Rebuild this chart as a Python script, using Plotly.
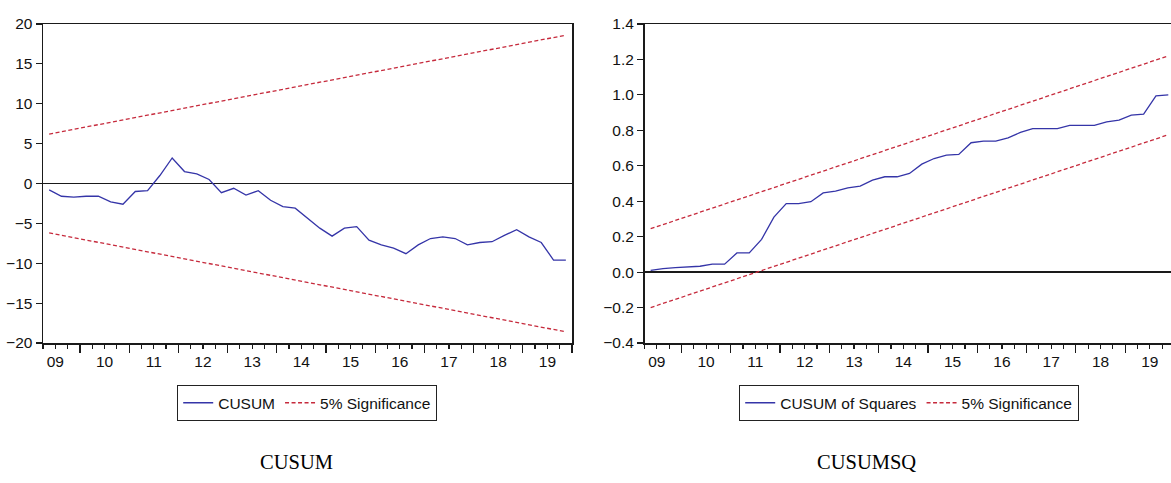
import plotly.graph_objects as go

# ---------------- data ----------------
start_year, start_q = 2009, 2          # first observation 2009Q2
n_obs = 43                              # 2009Q2 .. 2019Q4
quarters = []
y, q = start_year, start_q
for _ in range(n_obs):
    quarters.append((y, q))
    q += 1
    if q > 4:
        q = 1
        y += 1
# plotted at the middle of each quarter (decimal years)
xq = [yy + (qq - 1) * 0.25 + 0.125 for yy, qq in quarters]

cusum = [-0.8, -1.6, -1.7, -1.6, -1.6, -2.3, -2.6, -1.0, -0.9, 1.0,
         3.2, 1.5, 1.2, 0.5, -1.15, -0.6, -1.45, -0.9, -2.1, -2.9,
         -3.1, -4.4, -5.6, -6.6, -5.6, -5.4, -7.1, -7.7, -8.1, -8.8,
         -7.7, -6.9, -6.7, -6.9, -7.7, -7.4, -7.3, -6.5, -5.8, -6.7,
         -7.4, -9.6, -9.6]
cusum_upper = [6.2, 18.6]      # first / last observation
cusum_lower = [-6.2, -18.6]

cusumsq = [0.01, 0.02, 0.025, 0.03, 0.033, 0.045, 0.045, 0.108, 0.108, 0.185,
           0.31, 0.387, 0.387, 0.397, 0.447, 0.457, 0.475, 0.485, 0.519, 0.538,
           0.538, 0.557, 0.609, 0.641, 0.66, 0.664, 0.73, 0.739, 0.739, 0.758,
           0.788, 0.81, 0.81, 0.81, 0.828, 0.828, 0.828, 0.848, 0.858, 0.886,
           0.892, 0.995, 1.0]
sq_upper = [0.245, 1.22]
sq_lower = [-0.2, 0.775]

years = list(range(2009, 2020))
year_labels = ["09", "10", "11", "12", "13", "14", "15", "16", "17", "18", "19"]
captions = ["CUSUM", "CUSUMSQ"]

# ---------------- style ----------------
W, H = 1171, 483
BLUE = "#3535a8"
RED = "#c62a3c"
AX = "#1a1a1a"
TICKFONT = dict(family="Liberation Sans, Arial, sans-serif", size=15.5, color="#111")
LEGFONT = dict(family="Liberation Sans, Arial, sans-serif", size=15.5, color="#111")

x_ends = [xq[0], xq[-1]]

fig = go.Figure()
# Left: CUSUM
fig.add_trace(go.Scatter(x=xq, y=cusum, mode="lines", name="CUSUM",
                         line=dict(color=BLUE, width=1.3), legend="legend",
                         xaxis="x", yaxis="y"))
fig.add_trace(go.Scatter(x=x_ends, y=cusum_upper, mode="lines", name="5% Significance",
                         line=dict(color=RED, width=1.3, dash="4px,2.5px"),
                         legend="legend", xaxis="x", yaxis="y"))
fig.add_trace(go.Scatter(x=x_ends, y=cusum_lower, mode="lines", name="5% Significance",
                         line=dict(color=RED, width=1.3, dash="4px,2.5px"),
                         showlegend=False, xaxis="x", yaxis="y"))
# Right: CUSUMSQ
fig.add_trace(go.Scatter(x=xq, y=cusumsq, mode="lines", name="CUSUM of Squares",
                         line=dict(color=BLUE, width=1.3), legend="legend2",
                         xaxis="x2", yaxis="y2"))
fig.add_trace(go.Scatter(x=x_ends, y=sq_upper, mode="lines", name="5% Significance",
                         line=dict(color=RED, width=1.3, dash="4px,2.5px"),
                         legend="legend2", xaxis="x2", yaxis="y2"))
fig.add_trace(go.Scatter(x=x_ends, y=sq_lower, mode="lines", name="5% Significance",
                         line=dict(color=RED, width=1.3, dash="4px,2.5px"),
                         showlegend=False, xaxis="x2", yaxis="y2"))

# quarter ticks (labels at mid-year), long ticks at year boundaries
q_tickvals, q_ticktext = [], []
for yy, lab in zip(years, year_labels):
    for frac, txt in ((0.25, ""), (0.5, lab), (0.75, "")):
        q_tickvals.append(yy + frac)
        q_ticktext.append(txt)
year_ticks = [yy + 1 for yy in years]

def xaxis_cfg(domain, rng, anchor):
    return dict(domain=domain, range=rng, anchor=anchor,
                tickmode="array", tickvals=q_tickvals, ticktext=q_ticktext,
                ticks="outside", ticklen=4, tickwidth=1.2, tickcolor=AX,
                minor=dict(tickmode="array", tickvals=year_ticks, ticks="outside",
                           ticklen=8, tickwidth=1.2, tickcolor=AX, showgrid=False),
                showline=True, linecolor=AX, linewidth=1.5, mirror=True,
                showgrid=False, zeroline=False, tickfont=TICKFONT,
                automargin=False, fixedrange=True)

def yaxis_cfg(rng, dtick, fmt, anchor, mirror):
    return dict(range=rng, anchor=anchor, tickmode="linear", tick0=rng[0], dtick=dtick,
                tickformat=fmt, ticks="outside", ticklen=6, tickwidth=1.2, tickcolor=AX,
                showline=True, linecolor=AX, linewidth=1.5, mirror=mirror,
                showgrid=False, zeroline=True, zerolinecolor=AX, zerolinewidth=1.5,
                tickfont=TICKFONT, automargin=False, fixedrange=True)

L_dom = [43 / W, 572 / W]
R_dom = [644.5 / W, 1.0]

fig.update_layout(
    width=W, height=H,
    margin=dict(l=0, r=0, t=24, b=140),
    paper_bgcolor="white", plot_bgcolor="white",
    xaxis=xaxis_cfg(L_dom, [2009.25, 2020.0], "y"),
    yaxis=yaxis_cfg([-20, 20], 5, "d", "x", True),
    xaxis2=xaxis_cfg(R_dom, [2009.25, 2019.93], "y2"),
    yaxis2=yaxis_cfg([-0.4, 1.4], 0.2, ".1f", "x2", False),
    legend=dict(orientation="h", x=307 / W, xanchor="center", y=-0.188, yanchor="middle",
                bordercolor="#222", borderwidth=1.2, bgcolor="white", font=LEGFONT,
                itemwidth=30, tracegroupgap=0),
    legend2=dict(orientation="h", x=909 / W, xanchor="center", y=-0.188, yanchor="middle",
                 bordercolor="#222", borderwidth=1.2, bgcolor="white", font=LEGFONT,
                 itemwidth=30, tracegroupgap=0),
    showlegend=True,
)

CAPFONT = dict(family="Liberation Serif, Times New Roman, serif", size=20.5, color="black")
fig.add_annotation(text=captions[0], xref="paper", yref="paper", x=296 / W, y=-0.372,
                   xanchor="center", yanchor="middle", showarrow=False, font=CAPFONT)
fig.add_annotation(text=captions[1], xref="paper", yref="paper", x=866 / W, y=-0.372,
                   xanchor="center", yanchor="middle", showarrow=False, font=CAPFONT)

fig.write_html("out.html", config={"displayModeBar": False, "staticPlot": True},
               post_script="document.body.style.margin='0';document.body.style.overflow='hidden';")
